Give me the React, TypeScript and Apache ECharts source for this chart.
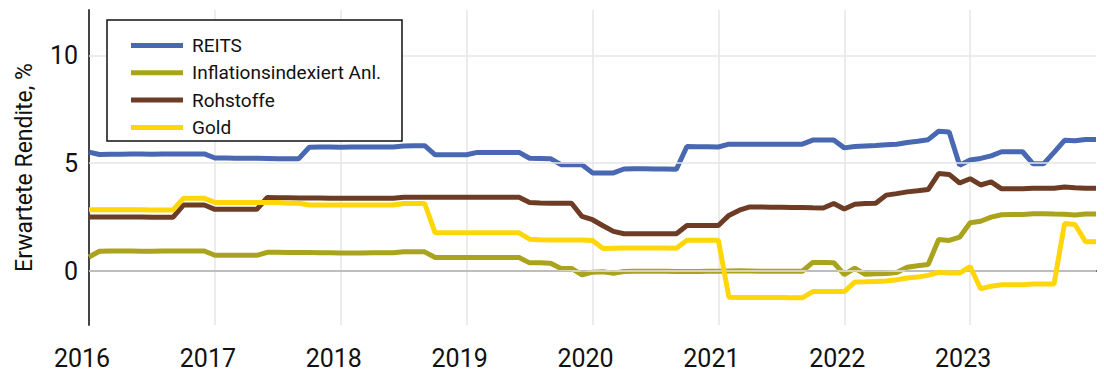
import React, { useEffect, useRef } from "react";
import * as echarts from "echarts";

// Monthly observations, January 2016 through January 2024
const months: string[] = [];
for (let y = 2016; y <= 2024; y++) {
  for (let m = 1; m <= 12; m++) {
    if (y === 2024 && m > 1) break;
    months.push(`${y}-${String(m).padStart(2, "0")}`);
  }
}

const seriesNames = ["REITS", "Inflationsindexiert Anl.", "Rohstoffe", "Gold"];
const seriesColors = ["#4868b1", "#a9a31e", "#6d3c25", "#ffd60a"];

const reits = [
  5.51, 5.4, 5.41, 5.41, 5.42, 5.42, 5.41, 5.42, 5.42, 5.43, 5.43, 5.43,
  5.24, 5.24, 5.23, 5.23, 5.23, 5.22, 5.21, 5.21, 5.21, 5.74, 5.75, 5.75,
  5.74, 5.75, 5.75, 5.75, 5.75, 5.75, 5.8, 5.81, 5.81, 5.39, 5.39, 5.39,
  5.39, 5.5, 5.5, 5.5, 5.5, 5.5, 5.23, 5.22, 5.21, 4.93, 4.93, 4.93,
  4.55, 4.55, 4.55, 4.73, 4.74, 4.74, 4.73, 4.73, 4.72, 5.77, 5.76, 5.76,
  5.75, 5.88, 5.88, 5.88, 5.88, 5.88, 5.88, 5.88, 5.88, 6.07, 6.07, 6.07,
  5.71, 5.77, 5.8, 5.82, 5.85, 5.88, 5.96, 6.02, 6.09, 6.48, 6.44, 4.9,
  5.15, 5.22, 5.34, 5.53, 5.53, 5.53, 4.97, 4.97, 5.5, 6.06, 6.04, 6.1,
  6.1,
];

const inflationLinked = [
  0.65, 0.92, 0.93, 0.93, 0.93, 0.92, 0.92, 0.93, 0.93, 0.93, 0.93, 0.93,
  0.73, 0.73, 0.73, 0.73, 0.73, 0.87, 0.87, 0.86, 0.86, 0.86, 0.85, 0.85,
  0.84, 0.84, 0.84, 0.85, 0.85, 0.85, 0.89, 0.89, 0.89, 0.63, 0.63, 0.63,
  0.63, 0.63, 0.63, 0.63, 0.63, 0.63, 0.38, 0.38, 0.36, 0.12, 0.12, -0.18,
  -0.05, -0.03, -0.1, -0.02, -0.01, -0.01, -0.01, -0.01, -0.02, -0.02, -0.02, -0.01,
  -0.01, 0.0, 0.01, 0.0, -0.01, -0.01, -0.01, -0.01, -0.01, 0.4, 0.4, 0.39,
  -0.16, 0.13, -0.15, -0.13, -0.11, -0.07, 0.18, 0.25, 0.3, 1.46, 1.42, 1.57,
  2.24, 2.31, 2.5, 2.61, 2.62, 2.62, 2.66, 2.66, 2.64, 2.63, 2.6, 2.64,
  2.64,
];

const commodities = [
  2.51, 2.51, 2.5, 2.5, 2.5, 2.5, 2.49, 2.49, 2.49, 3.06, 3.06, 3.06,
  2.86, 2.86, 2.86, 2.86, 2.86, 3.41, 3.4, 3.4, 3.39, 3.39, 3.39, 3.38,
  3.38, 3.38, 3.38, 3.38, 3.38, 3.38, 3.42, 3.42, 3.42, 3.42, 3.42, 3.42,
  3.42, 3.42, 3.42, 3.42, 3.42, 3.42, 3.18, 3.15, 3.14, 3.14, 3.14, 2.53,
  2.38, 2.1, 1.84, 1.73, 1.73, 1.73, 1.73, 1.73, 1.73, 2.11, 2.11, 2.11,
  2.11, 2.58, 2.82, 2.97, 2.97, 2.96, 2.96, 2.95, 2.95, 2.93, 2.92, 3.13,
  2.88, 3.1, 3.13, 3.14, 3.52, 3.59, 3.67, 3.72, 3.78, 4.52, 4.48, 4.08,
  4.28, 3.99, 4.13, 3.81, 3.81, 3.81, 3.84, 3.84, 3.84, 3.9, 3.86, 3.84,
  3.84,
];

const gold = [
  2.84, 2.84, 2.84, 2.84, 2.84, 2.84, 2.83, 2.83, 2.83, 3.37, 3.37, 3.37,
  3.18, 3.18, 3.18, 3.18, 3.18, 3.18, 3.18, 3.14, 3.14, 3.06, 3.06, 3.06,
  3.06, 3.06, 3.06, 3.06, 3.06, 3.06, 3.13, 3.13, 3.13, 1.77, 1.77, 1.77,
  1.77, 1.77, 1.77, 1.77, 1.77, 1.77, 1.48, 1.45, 1.44, 1.44, 1.44, 1.44,
  1.42, 1.05, 1.06, 1.07, 1.07, 1.07, 1.07, 1.07, 1.06, 1.43, 1.43, 1.43,
  1.43, -1.21, -1.22, -1.22, -1.23, -1.23, -1.23, -1.24, -1.24, -0.95, -0.95, -0.95,
  -0.95, -0.51, -0.5, -0.48, -0.46, -0.4, -0.32, -0.28, -0.2, -0.06, -0.09, -0.09,
  0.21, -0.82, -0.7, -0.63, -0.63, -0.63, -0.6, -0.6, -0.6, 2.2, 2.16, 1.36,
  1.36,
];

const seriesValues = [reits, inflationLinked, commodities, gold];
const yGridValues = [0, 5, 10];

const FONT = "Roboto, 'Liberation Sans', Arial, sans-serif";

export default function App() {
  const ref = useRef<HTMLDivElement>(null);

  useEffect(() => {
    if (!ref.current) return;
    const chart = echarts.init(ref.current, undefined, { renderer: "svg" });

    const lineSeries = seriesNames.map((name, k) => ({
      name,
      type: "line",
      data: seriesValues[k],
      showSymbol: false,
      symbol: "none",
      z: 3 + k,
      lineStyle: { color: seriesColors[k], width: 5 },
      itemStyle: { color: seriesColors[k] },
    }));

    chart.setOption({
      animation: false,
      backgroundColor: "#ffffff",
      grid: { left: 89, right: 8, top: 10, bottom: 46, containLabel: false },
      xAxis: {
        type: "category",
        data: months,
        boundaryGap: false,
        axisLine: { show: true, lineStyle: { color: "#444444", width: 2 } },
        axisTick: { show: false },
        axisLabel: {
          interval: (i: number) => i % 12 === 0 && i < months.length - 1,
          formatter: (v: string) => v.slice(0, 4),
          fontFamily: FONT,
          fontSize: 25,
          lineHeight: 24,
          color: "#111111",
          margin: 21,
          padding: [0, 14, 0, 0],
        },
        splitLine: {
          show: true,
          interval: (i: number) => i % 12 === 0 && i > 0 && i < months.length - 1,
          lineStyle: { color: "#e6e6e6", width: 1.5 },
        },
      },
      yAxis: {
        type: "value",
        min: -2.5,
        max: 12.1,
        splitNumber: 3,
        name: "Erwartete Rendite, %",
        nameLocation: "middle",
        nameRotate: 90,
        nameGap: 53,
        nameTextStyle: { fontFamily: FONT, fontSize: 23, color: "#111111" },
        axisLine: { show: true, lineStyle: { color: "#444444", width: 2 } },
        axisTick: { show: false },
        splitLine: { show: false },
        axisLabel: {
          fontFamily: FONT,
          fontSize: 25,
          color: "#111111",
          margin: 11,
          formatter: (v: number) => (yGridValues.includes(Math.round(v * 1000) / 1000) ? String(v) : ""),
        },
      },
      legend: {
        data: seriesNames,
        orient: "vertical",
        left: 126,
        top: 30.5,
        z: 100,
        icon: "rect",
        itemWidth: 52,
        itemHeight: 5,
        itemGap: 7.3,
        textStyle: {
          fontFamily: FONT,
          fontSize: 19,
          lineHeight: 20,
          color: "#111111",
          padding: [0, 0, 0, 4],
        },
      },
      graphic: [
        {
          type: "rect",
          z: 50,
          shape: { x: 107, y: 20, width: 295, height: 121 },
          style: { fill: "#ffffff", stroke: "#111111", lineWidth: 1.5 },
          silent: true,
        },
      ],
      series: [
        {
          name: "grid",
          type: "line",
          data: [],
          z: 1,
          silent: true,
          markLine: {
            silent: true,
            symbol: "none",
            label: { show: false },
            lineStyle: { color: "#e6e6e6", width: 1.5, type: "solid" },
            data: yGridValues.map((v) => ({ yAxis: v })),
          },
        },
        ...lineSeries,
      ],
    });

    return () => chart.dispose();
  }, []);

  return (
    <div
      ref={ref}
      style={{ position: "fixed", left: 0, top: 0, width: 1104, height: 371 }}
    />
  );
}
